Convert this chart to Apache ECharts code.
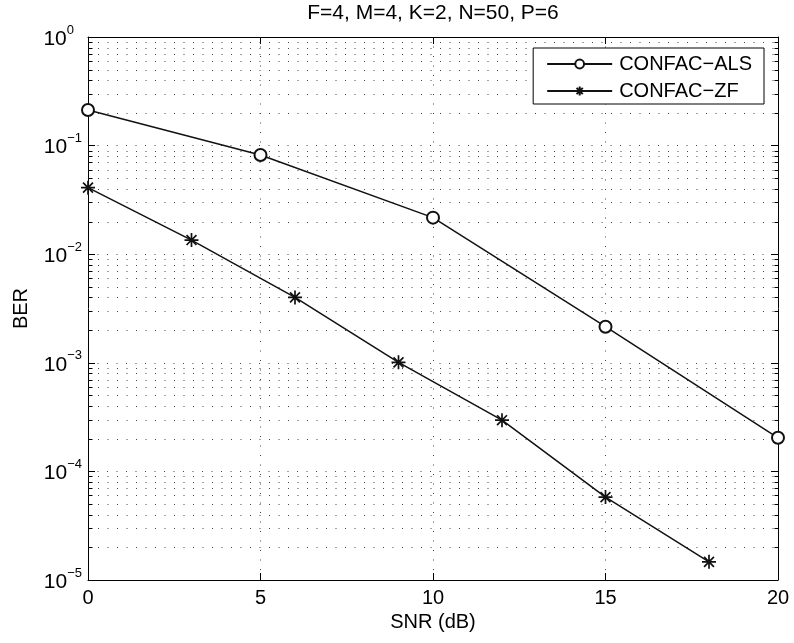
<!DOCTYPE html>
<html>
<head>
<meta charset="utf-8">
<script src="https://cdn.jsdelivr.net/npm/echarts@6/dist/echarts.min.js"></script>
<style>
html,body{margin:0;padding:0;background:#fff;}
#chart{width:794px;height:643px;}
</style>
</head>
<body>
<div id="chart"></div>
<script>
// ---- data ----
const titleText = 'F=4, M=4, K=2, N=50, P=6';
const xName = 'SNR (dB)';
const yName = 'BER';
const seriesNames = ['CONFAC\u2212ALS', 'CONFAC\u2212ZF'];
const alsSNR = [0, 5, 10, 15, 20];
const alsBER = [0.213, 0.082, 0.0217, 0.00215, 0.000204];
const zfSNR = [0, 3, 6, 9, 12, 15, 18];
const zfBER = [0.041, 0.0135, 0.004, 0.00101, 0.000296, 5.8e-5, 1.47e-5];
const xTicks = [0, 5, 10, 15, 20];
const yDecades = [1e-5, 1e-4, 1e-3, 1e-2, 1e-1, 1];

// ---- derived ----
const FONT = '"Liberation Sans", Arial, Helvetica, sans-serif';
const xMin = xTicks[0], xMax = xTicks[xTicks.length - 1];
const yMin = yDecades[0], yMax = yDecades[yDecades.length - 1];
const minorVals = [];
for (let i = 0; i < yDecades.length - 1; i++) {
  for (let k = 2; k <= 9; k++) minorVals.push([xMin, yDecades[i] * k]);
}
const alsData = alsSNR.map((x, i) => [x, alsBER[i]]);
const zfData = zfSNR.map((x, i) => [x, zfBER[i]]);

const asterisk = 'path://M0,-10L0,10M-10,0L10,0M-7.07,-7.07L7.07,7.07M-7.07,7.07L7.07,-7.07';
const DOT = [1, 8.5];
const GRIDC = '#444';

function yLabel(v) {
  const e = Math.round(Math.log10(v));
  if (e === 0) return '{b|10}{z|0}';
  const es = e < 0 ? '\u2212' + (-e) : String(e);
  return '{b|10}{s|' + es + '}';
}

const chart = echarts.init(document.getElementById('chart'), null, {renderer: 'canvas'});
const option = {
  animation: false,
  backgroundColor: '#fff',
  title: {
    text: titleText,
    left: 433, top: 3, textAlign: 'center', padding: 0,
    textStyle: {fontFamily: FONT, fontSize: 21, fontWeight: 'normal', color: '#000'}
  },
  grid: {left: 88, right: 16, top: 37, bottom: 63, show: false},
  legend: {
    data: seriesNames,
    orient: 'vertical',
    right: 30, top: 48,
    backgroundColor: '#fff',
    borderColor: '#000', borderWidth: 1, borderRadius: 0,
    padding: [6, 12, 3, 13],
    itemWidth: 65, itemHeight: 11, itemGap: 7,
    textStyle: {fontFamily: FONT, fontSize: 20, color: '#000', padding: [0, 0, 0, 2]}
  },
  xAxis: [{
    type: 'value', min: xMin, max: xMax, interval: 5,
    name: xName, nameLocation: 'middle', nameGap: 31,
    nameTextStyle: {fontFamily: FONT, fontSize: 20, color: '#000'},
    axisLine: {show: true, onZero: false, lineStyle: {color: '#000', width: 1}},
    axisTick: {show: true, inside: true, length: 7, lineStyle: {color: '#000'}},
    axisLabel: {fontFamily: FONT, fontSize: 20, color: '#000', margin: 8},
    splitLine: {show: true, lineStyle: {color: GRIDC, type: DOT, width: 1}}
  }, {
    type: 'value', min: xMin, max: xMax, interval: 5, position: 'top',
    axisLine: {show: true, onZero: false, lineStyle: {color: '#000', width: 1}},
    axisTick: {show: true, inside: true, length: 7, lineStyle: {color: '#000'}},
    axisLabel: {show: false},
    splitLine: {show: false}
  }],
  yAxis: [{
    type: 'log', logBase: 10, min: yMin, max: yMax, splitNumber: 5,
    name: yName, nameLocation: 'middle', nameGap: 57,
    nameTextStyle: {fontFamily: FONT, fontSize: 20, color: '#000'},
    axisLine: {show: true, onZero: false, lineStyle: {color: '#000', width: 1}},
    axisTick: {show: true, inside: true, length: 7, lineStyle: {color: '#000'}},
    axisLabel: {
      margin: 6,
      formatter: yLabel,
      rich: {
        b: {fontFamily: FONT, fontSize: 21, color: '#000', padding: [4, 0, 0, 0]},
        s: {fontFamily: FONT, fontSize: 13, color: '#000', padding: [0, 0, 14, 0]},
        z: {fontFamily: FONT, fontSize: 13, color: '#000', padding: [0, 8, 14, 0]}
      }
    },
    splitLine: {show: true, lineStyle: {color: GRIDC, type: DOT, width: 1}}
  }, {
    type: 'log', logBase: 10, min: yMin, max: yMax, splitNumber: 5, position: 'right',
    axisLine: {show: true, onZero: false, lineStyle: {color: '#000', width: 1}},
    axisTick: {show: true, inside: true, length: 7, lineStyle: {color: '#000'}},
    axisLabel: {show: false},
    splitLine: {show: false}
  }],
  series: [{
    type: 'custom',
    name: 'minor',
    silent: true,
    z: 1,
    xAxisIndex: 0, yAxisIndex: 0,
    encode: {x: 0, y: 1},
    data: minorVals,
    renderItem: function (params, api) {
      const v = api.value(1);
      const pL = api.coord([xMin, v]);
      const pR = api.coord([xMax, v]);
      const y = Math.round(pL[1]) + 0.5;
      const xl = Math.round(pL[0]) + 0.5, xr = Math.round(pR[0]) + 0.5;
      return {
        type: 'group',
        children: [
          {type: 'line', shape: {x1: xl, y1: y, x2: xr, y2: y}, style: {stroke: GRIDC, lineWidth: 1, lineDash: DOT}},
          {type: 'line', shape: {x1: xl, y1: y, x2: xl + 4, y2: y}, style: {stroke: '#000', lineWidth: 1}},
          {type: 'line', shape: {x1: xr - 4, y1: y, x2: xr, y2: y}, style: {stroke: '#000', lineWidth: 1}}
        ]
      };
    }
  }, {
    type: 'line',
    name: seriesNames[0],
    data: alsData,
    clip: false,
    z: 5,
    symbol: 'emptyCircle', symbolSize: 12,
    color: '#111',
    lineStyle: {color: '#111', width: 1.5},
    itemStyle: {color: '#111', borderColor: '#111', borderWidth: 1.5}
  }, {
    type: 'line',
    name: seriesNames[1],
    data: zfData,
    clip: false,
    z: 5,
    symbol: asterisk, symbolSize: 14, symbolKeepAspect: true,
    color: '#111',
    lineStyle: {color: '#111', width: 1.5},
    itemStyle: {color: '#111', borderColor: '#111', borderWidth: 1.7}
  }]
};
chart.setOption(option);
</script>
</body>
</html>
